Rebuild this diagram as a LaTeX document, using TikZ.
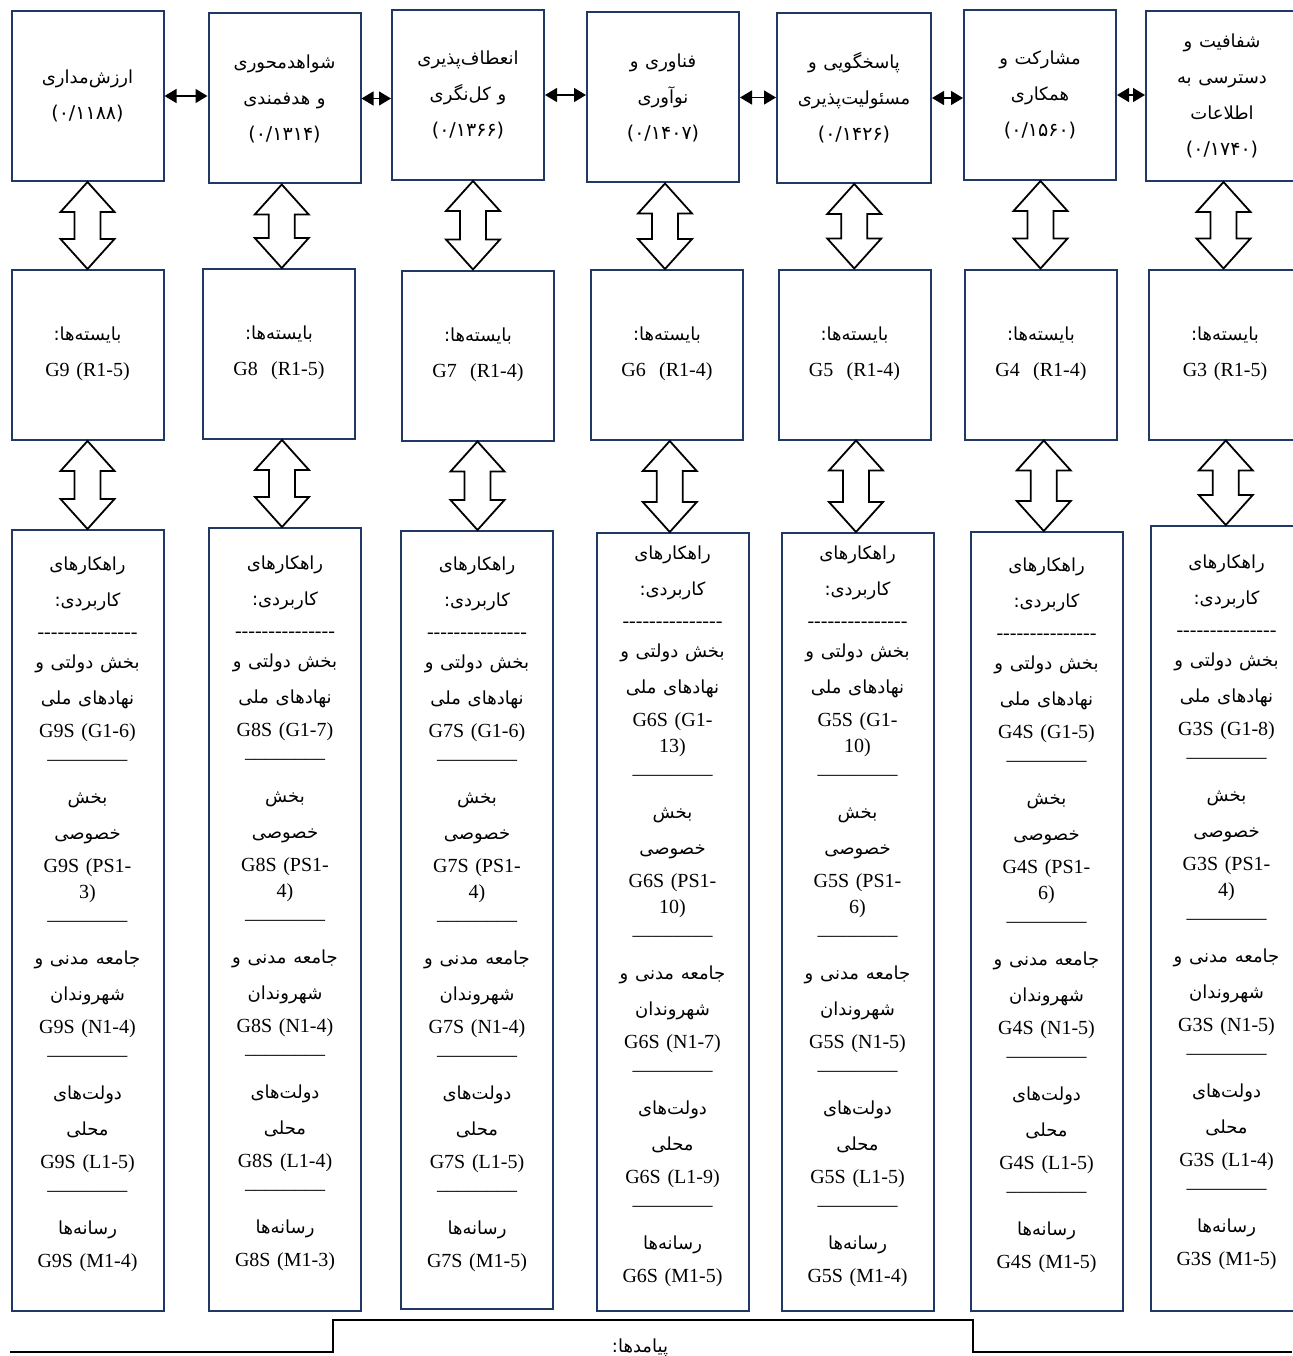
\documentclass[tikz,border=0pt]{standalone}
\usepackage{fontspec}
\setmainfont{Liberation Serif}
\newfontfamily\arabicfont{DejaVu Sans}[Script=Arabic,Scale=0.9]
\newfontfamily\digitfont{DejaVu Sans}[Scale=0.95]
\TeXXeTstate=1
\usepackage{tikz}
\usetikzlibrary{arrows.meta, calc}
\definecolor{boxblue}{RGB}{31,56,100}
\newcommand{\fa}[1]{{\arabicfont\beginR #1\endR}}
\newcommand{\fnum}[1]{{\digitfont #1}}
\newcommand{\hyline}{-{}-{}-{}-{}-{}-{}-{}-{}-{}-{}-{}-{}-{}-{}-}
\newcommand{\sepline}{––––––––}
\newcommand{\brk}{\\[-2pt]}
\newcommand{\needs}[1]{\mbox{}\\[-24pt]\fa{بایسته^^^^200cها:}\\ #1}
% one column of practical measures
\newcommand{\practices}[5]{%
  \fa{راهکارهای}\\[8pt]
  \fa{کاربردی:}\\[4pt]
  \hyline\\[2pt]
  \fa{بخش دولتی و}\\[8pt]
  \fa{نهادهای ملی}\\[5pt]
  #1\\
  \sepline\\[10pt]
  \fa{بخش}\\[8pt]
  \fa{خصوصی}\\[5pt]
  #2\\
  \sepline\\[10pt]
  \fa{جامعه مدنی و}\\[8pt]
  \fa{شهروندان}\\[5pt]
  #3\\
  \sepline\\[10pt]
  \fa{دولت^^^^200cهای}\\[8pt]
  \fa{محلی}\\[5pt]
  #4\\
  \sepline\\[10pt]
  \fa{رسانه^^^^200cها}\\[5pt]
  #5\\[-12pt]\mbox{}}
% hollow two-way arrow between two stacked boxes
\newcommand{\twoway}[2]{%
  \draw[hollow] let \p1=(#1.south), \p2=(#2.north), \p3=($(\p1)!0.5!(\p2)$) in
    (\x3,\y1) -- (\x3+27pt,\y1-30pt) -- (\x3+13pt,\y1-30pt) -- (\x3+13pt,\y2+30pt)
    -- (\x3+27pt,\y2+30pt) -- (\x3,\y2) -- (\x3-27pt,\y2+30pt) -- (\x3-13pt,\y2+30pt)
    -- (\x3-13pt,\y1-30pt) -- (\x3-27pt,\y1-30pt) -- cycle;}

\begin{document}
\begin{tikzpicture}[x=1pt, y=-1pt,
  valbox/.style={draw=boxblue, line width=2pt, inner sep=0pt, text width=144pt,
    align=center, minimum width=152pt, minimum height=170pt,
    font=\fontsize{20}{36}\selectfont},
  actbox/.style={valbox, font=\fontsize{20}{28}\selectfont},
  pairarrow/.style={{Triangle[length=12pt,width=14pt]}-{Triangle[length=12pt,width=14pt]},
    line width=1.3pt},
  hollow/.style={draw=black, fill=white, line width=1.8pt}]
\useasboundingbox (0,0) rectangle (1292,1356);

% values
\node[valbox] (t9) at (87.5,96) {\fa{ارزش^^^^200cمداری}\\ \fnum{(۰/۱۱۸۸)}};
\node[valbox] (t8) at (284.5,98.5) {\fa{شواهدمحوری}\\ \fa{و هدفمندی}\\ \fnum{(۰/۱۳۱۴)}};
\node[valbox] (t7) at (468,95) {\fa{انعطاف^^^^200cپذیری}\\ \fa{و کل^^^^200cنگری}\\ \fnum{(۰/۱۳۶۶)}};
\node[valbox] (t6) at (663,97.5) {\fa{فناوری و}\\ \fa{نوآوری}\\ \fnum{(۰/۱۴۰۷)}};
\node[valbox, minimum width=154pt] (t5) at (854,98) {\fa{پاسخگویی و}\\ \fa{مسئولیت^^^^200cپذیری}\\ \fnum{(۰/۱۴۲۶)}};
\node[valbox] (t4) at (1040,95) {\fa{مشارکت و}\\ \fa{همکاری}\\ \fnum{(۰/۱۵۶۰)}};
\node[valbox] (t3) at (1222,96) {\fa{شفافیت و}\\ \fa{دسترسی به}\\ \fa{اطلاعات}\\ \fnum{(۰/۱۷۴۰)}};

% requirements
\node[valbox] (m9) at (87.5,355) {\needs{G9 (R1-5)}};
\node[valbox] (m8) at (279,354) {\needs{G8~ (R1-5)}};
\node[valbox] (m7) at (478,355.5) {\needs{G7~ (R1-4)}};
\node[valbox] (m6) at (667,355) {\needs{G6~ (R1-4)}};
\node[valbox] (m5) at (854.5,354.5) {\needs{G5~ (R1-4)}};
\node[valbox] (m4) at (1041,354.5) {\needs{G4~ (R1-4)}};
\node[valbox] (m3) at (1225,354.5) {\needs{G3 (R1-5)}};

% practical measures
\node[actbox, minimum height=781pt] (b9) at (87.5,920.5)
  {\practices{G9S (G1-6)}{G9S (PS1-\brk 3)}{G9S (N1-4)}{G9S (L1-5)}{G9S (M1-4)}};
\node[actbox, minimum height=783pt] (b8) at (285,919.5)
  {\practices{G8S (G1-7)}{G8S (PS1-\brk 4)}{G8S (N1-4)}{G8S (L1-4)}{G8S (M1-3)}};
\node[actbox, minimum height=778pt] (b7) at (477,920)
  {\practices{G7S (G1-6)}{G7S (PS1-\brk 4)}{G7S (N1-4)}{G7S (L1-5)}{G7S (M1-5)}};
\node[actbox, minimum height=778pt] (b6) at (672.5,922)
  {\practices{G6S (G1-\brk 13)}{G6S (PS1-\brk 10)}{G6S (N1-7)}{G6S (L1-9)}{G6S (M1-5)}};
\node[actbox, minimum height=778pt] (b5) at (857.5,922)
  {\practices{G5S (G1-\brk 10)}{G5S (PS1-\brk 6)}{G5S (N1-5)}{G5S (L1-5)}{G5S (M1-4)}};
\node[actbox, minimum height=779pt] (b4) at (1046.5,921.5)
  {\practices{G4S (G1-5)}{G4S (PS1-\brk 6)}{G4S (N1-5)}{G4S (L1-5)}{G4S (M1-5)}};
\node[actbox, minimum height=785pt] (b3) at (1226.5,918.5)
  {\practices{G3S (G1-8)}{G3S (PS1-\brk 4)}{G3S (N1-5)}{G3S (L1-4)}{G3S (M1-5)}};

% links
\foreach \a/\b in {t9/t8, t8/t7, t7/t6, t6/t5, t5/t4, t4/t3}
  \draw[pairarrow] (\a.east) -- (\a.east -| \b.west);
\foreach \g in {9,8,7,6,5,4,3} {\twoway{t\g}{m\g} \twoway{m\g}{b\g}}

% outcomes (cut off)
\draw[line width=2.5pt] (10,1352) -- (333,1352) -- (333,1320) -- (973,1320)
  -- (973,1352) -- (1292,1352);
\node[font=\fontsize{20}{24}\selectfont] (outcomes) at (640,1348) {\fa{پیامدها:}};
\end{tikzpicture}
\end{document}
